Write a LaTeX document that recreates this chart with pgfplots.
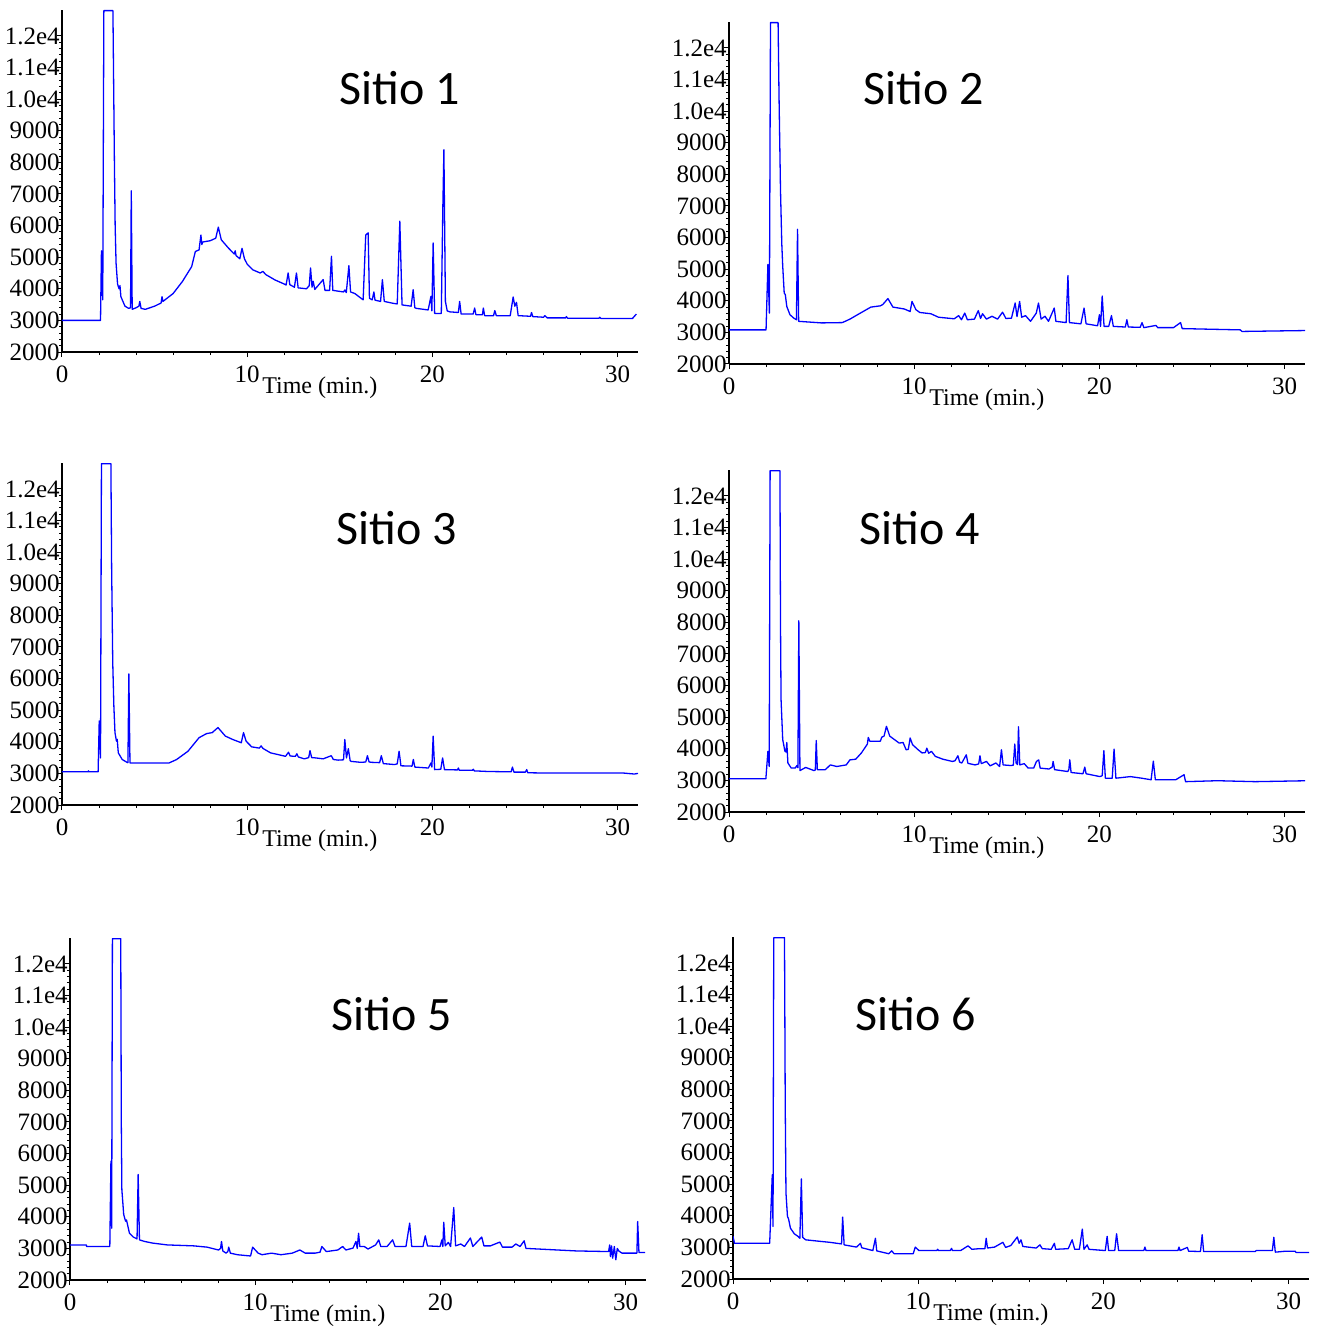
\documentclass[border=0pt]{standalone}
\usepackage{pgfplots}
\pgfplotsset{compat=1.18}
\usepackage{fontspec}
\setmainfont{Liberation Serif}
\newfontfamily\titlefont{Carlito}

\pgfplotsset{chrom/.style={
  scale only axis, width=288pt, height=171pt,
  xmin=0, xmax=31.1, ymin=2000, ymax=12820,
  axis lines=left, axis line style={-, line width=0.6pt},
  tick align=outside, major tick length=2.5pt, minor tick length=1.5pt,
  tick style={black, line width=0.5pt},
  scaled y ticks=false, scaled x ticks=false,
  xtick={0,10,20,30}, xticklabels={0,10,20,30}, minor x tick num=4,
  ytick={2000,3000,...,12000},
  yticklabels={2000,3000,4000,5000,6000,7000,8000,9000,1.0e4,1.1e4,1.2e4},
  minor y tick num=4,
  ticklabel style={font=\fontsize{12.5}{14}\selectfont},
  yticklabel style={inner xsep=0pt, xshift=1.5pt},
  xticklabel style={yshift=-1pt},
  xlabel={Time (min.)},
  xlabel style={at={(axis description cs:0.347,0)}, anchor=north west,
    inner sep=0pt, yshift=-12pt, font=\fontsize{12}{14}\selectfont},
  clip mode=individual,
}}
\pgfplotsset{trace/.style={blue, line width=0.65pt, no markers, line join=round}}
\newcommand{\sitio}[1]{\titlefont\fontsize{24}{28}\selectfont Sitio #1}

\begin{document}
\begin{tikzpicture}
\path[use as bounding box] (0,0) rectangle (660.5pt,-663pt);

% Sitio 1
\begin{axis}[chrom, at={(31pt,-176pt)}, anchor=south west]
\addplot[trace] coordinates {(0,3000) (2.08,3000) (2.13,5200) (2.2,3650) (2.26,12800) (2.75,12800) (2.78,11000) (2.83,8000) (2.87,6000) (2.92,4800) (3.0,4150) (3.08,4000) (3.13,4100) (3.18,3750) (3.4,3450) (3.6,3380) (3.7,3400) (3.74,7100) (3.79,3350) (4.0,3400) (4.15,3450) (4.2,3600) (4.27,3380) (4.5,3350) (5.0,3450) (5.35,3550) (5.4,3750) (5.45,3600) (6.0,3850) (6.5,4230) (7.0,4700) (7.2,5180) (7.4,5230) (7.5,5700) (7.55,5400) (7.6,5480) (8.0,5520) (8.3,5600) (8.44,5950) (8.6,5550) (9.0,5280) (9.3,5100) (9.35,5200) (9.4,5050) (9.6,4950) (9.72,5280) (9.85,4950) (10.0,4780) (10.3,4600) (10.7,4500) (10.85,4550) (11.0,4450) (11.5,4280) (12.0,4150) (12.1,4120) (12.21,4500) (12.3,4130) (12.55,4050) (12.66,4500) (12.75,4030) (13.2,4000) (13.35,4100) (13.42,4660) (13.5,4050) (13.56,4240) (13.65,3980) (14.1,4290) (14.2,3950) (14.45,3950) (14.55,5030) (14.62,3950) (15.2,3900) (15.27,3960) (15.35,3880) (15.49,4730) (15.58,3900) (15.81,3850) (16.26,3650) (16.4,5700) (16.53,5770) (16.6,3700) (16.75,3650) (16.84,3900) (16.9,3640) (17.2,3600) (17.3,4290) (17.4,3600) (17.88,3540) (18.1,3520) (18.24,6140) (18.36,3490) (18.85,3450) (18.96,3970) (19.05,3400) (19.14,3380) (19.77,3330) (19.92,3760) (19.97,3300) (20.04,5450) (20.12,3220) (20.48,3220) (20.56,6500) (20.62,8400) (20.7,3600) (20.8,3300) (20.94,3270) (21.4,3250) (21.47,3600) (21.55,3200) (22.2,3200) (22.28,3390) (22.35,3180) (22.7,3180) (22.75,3390) (22.82,3150) (23.3,3150) (23.37,3310) (23.45,3150) (24.2,3150) (24.36,3740) (24.45,3450) (24.54,3570) (24.63,3150) (25.3,3130) (25.35,3250) (25.42,3120) (26.0,3100) (26.07,3150) (26.2,3080) (27.2,3080) (27.23,3120) (27.3,3070) (29.0,3070) (29.03,3100) (29.1,3060) (30.8,3060) (31.01,3200)};
\node at (axis cs:18.25,10340) {\sitio{1}};
\end{axis}

% Sitio 2
\begin{axis}[chrom, at={(364.5pt,-182pt)}, anchor=south west]
\addplot[trace] coordinates {(0,3080) (2.0,3080) (2.1,5150) (2.18,3610) (2.24,12800) (2.65,12800) (2.7,10500) (2.78,7500) (2.85,5800) (2.9,5100) (2.98,4250) (3.04,4190) (3.12,3820) (3.29,3560) (3.5,3450) (3.64,3400) (3.7,6260) (3.76,3350) (5.0,3300) (6.12,3310) (6.53,3420) (6.94,3560) (7.66,3800) (8.17,3840) (8.3,3880) (8.58,4070) (8.85,3800) (9.47,3740) (9.78,3660) (9.88,3980) (10.09,3720) (10.3,3630) (10.9,3590) (11.31,3480) (12.16,3430) (12.4,3530) (12.55,3400) (12.73,3610) (12.87,3400) (13.25,3420) (13.46,3690) (13.58,3440) (13.69,3590) (13.9,3420) (14.2,3510) (14.5,3420) (14.77,3640) (14.95,3440) (15.25,3450) (15.45,3930) (15.55,3500) (15.69,3980) (15.8,3480) (16.01,3530) (16.28,3350) (16.59,3610) (16.71,3930) (16.85,3420) (17.06,3510) (17.25,3350) (17.56,3770) (17.65,3350) (18.2,3310) (18.3,4800) (18.38,3310) (19.0,3270) (19.17,3770) (19.28,3270) (19.9,3210) (20.0,3560) (20.06,3190) (20.15,4150) (20.25,3190) (20.5,3190) (20.65,3530) (20.75,3190) (21.4,3170) (21.48,3400) (21.56,3170) (22.2,3160) (22.3,3310) (22.4,3150) (23.05,3220) (23.15,3150) (24.0,3150) (24.38,3310) (24.47,3120) (26.0,3100) (27.6,3080) (27.7,3030) (31.3,3060)};
\node at (axis cs:10.53,10715) {\sitio{2}};
\end{axis}

% Sitio 3
\begin{axis}[chrom, at={(31pt,-402.5pt)}, anchor=south west]
\addplot[trace] coordinates {(0,3050) (1.4,3050) (1.43,3080) (1.46,3050) (1.95,3050) (2.01,4660) (2.08,3490) (2.13,12800) (2.64,12800) (2.68,9500) (2.74,6500) (2.8,5140) (2.86,4290) (2.94,4020) (2.98,4080) (3.04,3650) (3.25,3440) (3.51,3350) (3.56,3340) (3.61,6150) (3.67,3330) (5.78,3330) (6.19,3440) (6.8,3700) (7.4,4130) (7.81,4260) (8.11,4290) (8.42,4450) (8.82,4180) (9.23,4070) (9.68,3970) (9.8,4290) (9.94,4020) (10.24,3840) (10.65,3800) (10.75,3870) (10.85,3790) (11.26,3650) (12.07,3540) (12.23,3670) (12.32,3550) (12.6,3540) (12.68,3620) (12.76,3520) (13.08,3460) (13.32,3500) (13.39,3720) (13.48,3500) (13.69,3490) (14.1,3460) (14.54,3560) (14.65,3440) (14.91,3420) (15.2,3430) (15.27,4070) (15.36,3490) (15.46,3780) (15.56,3400) (15.62,3380) (16.13,3350) (16.4,3360) (16.49,3560) (16.58,3360) (16.73,3350) (17.15,3340) (17.24,3560) (17.35,3310) (17.95,3280) (18.1,3300) (18.2,3700) (18.3,3240) (18.9,3230) (18.97,3440) (19.05,3200) (19.78,3170) (19.92,3330) (19.97,3200) (20.04,4180) (20.12,3120) (20.45,3130) (20.55,3490) (20.65,3120) (21.35,3110) (21.4,3170) (21.45,3100) (22.16,3100) (22.21,3130) (22.26,3080) (23.02,3060) (24.25,3050) (24.32,3200) (24.4,3040) (25.02,3040) (25.09,3120) (25.15,3020) (26.27,3010) (30.33,3010) (30.9,2980) (31.1,3000)};
\node at (axis cs:18.09,10750) {\sitio{3}};
\end{axis}

% Sitio 4
\begin{axis}[chrom, at={(364.5pt,-406pt)}, anchor=south west]
\addplot[trace] coordinates {(0,3050) (1.99,3050) (2.1,3920) (2.17,3440) (2.22,12800) (2.75,12800) (2.78,8000) (2.81,5560) (2.9,4290) (3.02,3920) (3.08,3900) (3.12,4200) (3.18,3550) (3.36,3390) (3.57,3390) (3.67,3470) (3.72,3400) (3.77,8050) (3.83,3310) (4.14,3410) (4.59,3310) (4.66,3330) (4.71,4260) (4.77,3340) (5.2,3340) (5.47,3490) (5.82,3440) (6.33,3490) (6.53,3650) (6.84,3670) (7.15,3870) (7.39,4080) (7.47,4150) (7.52,4360) (7.6,4240) (8.17,4240) (8.25,4370) (8.37,4400) (8.5,4710) (8.68,4400) (9.19,4180) (9.4,4200) (9.56,3970) (9.68,3980) (9.78,4340) (9.91,4130) (10.21,3970) (10.42,3870) (10.6,3880) (10.68,4020) (10.78,3860) (10.93,3920) (11.14,3760) (11.55,3670) (12.06,3600) (12.2,3620) (12.36,3780) (12.45,3580) (12.57,3550) (12.81,3810) (12.9,3540) (12.98,3530) (13.28,3490) (13.48,3520) (13.55,3780) (13.62,3530) (13.9,3600) (14.1,3460) (14.41,3550) (14.61,3440) (14.71,3970) (14.8,3490) (15.22,3470) (15.35,3480) (15.43,4150) (15.5,3550) (15.58,3500) (15.63,4700) (15.7,3490) (15.94,3530) (16.15,3390) (16.45,3390) (16.6,3600) (16.72,3650) (16.8,3390) (17.27,3360) (17.45,3420) (17.5,3600) (17.58,3340) (18.29,3280) (18.35,3350) (18.4,3650) (18.47,3250) (19.11,3210) (19.21,3420) (19.28,3210) (20.03,3120) (20.15,3150) (20.24,3940) (20.32,3070) (20.69,3070) (20.79,3990) (20.89,3070) (21.67,3120) (22.28,3070) (22.79,3020) (22.91,3610) (23.02,3020) (24.12,3020) (24.57,3180) (24.65,2960) (26.37,2990) (28.41,2960) (31.28,2990)};
\node at (axis cs:10.31,10970) {\sitio{4}};
\end{axis}

% Sitio 5
\begin{axis}[chrom, at={(35pt,-640pt)}, anchor=south west]
\addplot[trace] coordinates {(0,3110) (0.88,3110) (0.9,3060) (2.15,3060) (2.21,5760) (2.25,3640) (2.29,12800) (2.74,12800) (2.77,7000) (2.8,4860) (2.9,4070) (3.0,3860) (3.05,3900) (3.21,3480) (3.42,3360) (3.62,3300) (3.68,5340) (3.75,3270) (4.03,3220) (4.44,3170) (5.26,3110) (6.69,3080) (7.4,3040) (8.02,2950) (8.13,3000) (8.18,3220) (8.25,2920) (8.43,2850) (8.52,2900) (8.57,3040) (8.66,2850) (9.04,2800) (9.75,2760) (9.86,3040) (10.16,2850) (10.37,2800) (10.88,2850) (11.39,2800) (12.0,2850) (12.41,2950) (12.7,2850) (13.23,2850) (13.5,2880) (13.6,3060) (13.84,2900) (14.46,2950) (14.72,3060) (14.9,2950) (15.28,3010) (15.44,3220) (15.51,3000) (15.58,3480) (15.65,3060) (15.89,3060) (16.09,2980) (16.5,3110) (16.67,3270) (16.78,3060) (17.12,3060) (17.42,3270) (17.55,3060) (18.14,3060) (18.34,3800) (18.45,3060) (19.06,3060) (19.18,3400) (19.3,3080) (19.98,3060) (20.08,3270) (20.13,3060) (20.18,3830) (20.26,3080) (20.43,3190) (20.55,3060) (20.72,4290) (20.82,3080) (21.1,3140) (21.3,3060) (21.62,3330) (21.75,3060) (22.23,3360) (22.35,3080) (22.7,3080) (23.21,3200) (23.35,3040) (23.87,3040) (24.07,3140) (24.3,3060) (24.52,3240) (24.62,3000) (25.3,2980) (26.32,2950) (27.34,2920) (29.08,2900) (29.14,3110) (29.18,2740) (29.24,3080) (29.3,2690) (29.39,3060) (29.47,2640) (29.55,3000) (29.63,2920) (29.8,2850) (30.61,2850) (30.65,3850) (30.72,2870) (31.05,2870)};
\node at (axis cs:17.39,10400) {\sitio{5}};
\end{axis}

% Sitio 6
\begin{axis}[chrom, at={(366.5pt,-639.5pt)}, anchor=south west]
\addplot[trace] coordinates {(0,3350) (0.08,3130) (1.98,3130) (2.12,5300) (2.16,3660) (2.2,12800) (2.78,12800) (2.82,7500) (2.86,4720) (2.94,3980) (3.0,3900) (3.1,3610) (3.31,3430) (3.51,3350) (3.61,3290) (3.69,5170) (3.76,3320) (3.92,3240) (4.73,3190) (5.24,3160) (5.86,3110) (5.92,3960) (6.0,3080) (6.67,3010) (6.88,3130) (6.95,2990) (7.55,2900) (7.69,3290) (7.76,2890) (8.41,2800) (8.57,2890) (8.7,2800) (9.73,2800) (9.84,3010) (10.04,2900) (11.0,2900) (11.05,2940) (11.1,2900) (11.73,2900) (11.8,2970) (11.85,2900) (12.29,2900) (12.69,3050) (12.9,2940) (13.3,2960) (13.6,2960) (13.67,3290) (13.74,2980) (14.12,3010) (14.57,3160) (14.72,3000) (15.0,3060) (15.35,3330) (15.45,3130) (15.55,3240) (15.65,3030) (16.37,2980) (16.57,3080) (16.7,2960) (17.18,2940) (17.35,3130) (17.42,2940) (18.1,2960) (18.31,3240) (18.45,2940) (18.7,2940) (18.86,3580) (18.95,2940) (19.12,3080) (19.22,2940) (20.1,2900) (20.2,3350) (20.28,2900) (20.61,2900) (20.71,3430) (20.82,2900) (22.18,2900) (22.24,3010) (22.3,2900) (24.02,2900) (24.08,3010) (24.14,2900) (24.53,3000) (24.6,2880) (25.24,2870) (25.33,3400) (25.41,2870) (28.2,2870) (28.25,2900) (29.12,2900) (29.2,3320) (29.28,2850) (29.84,2880) (30.35,2880) (30.4,2840) (31.1,2840)};
\node at (axis cs:9.88,10370) {\sitio{6}};
\end{axis}
\end{tikzpicture}
\end{document}
